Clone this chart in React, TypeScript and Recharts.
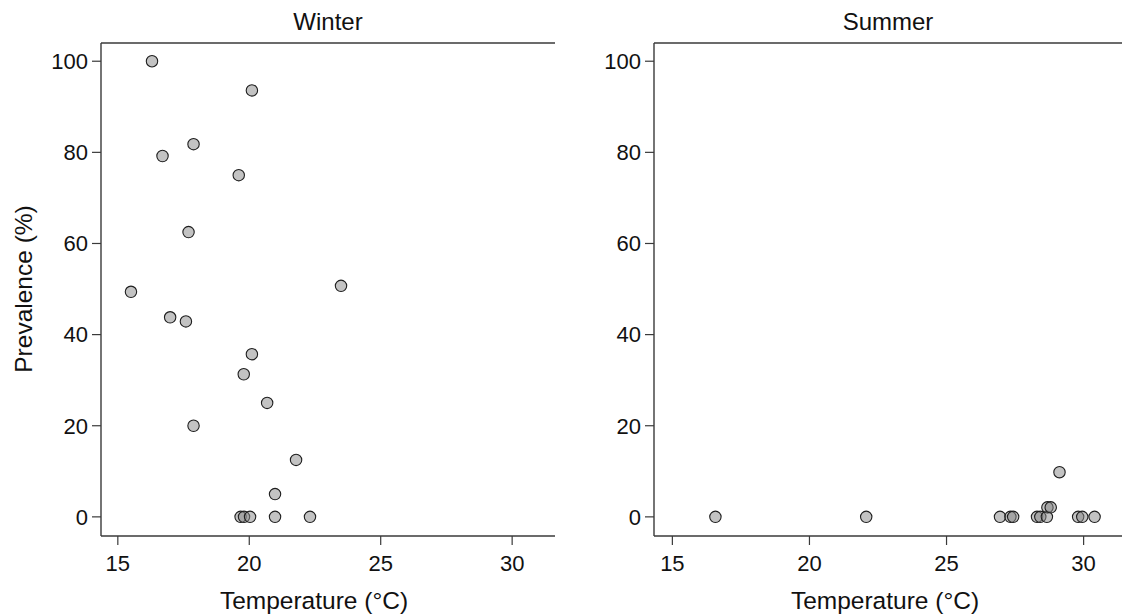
import React from 'react';
import { ScatterChart, Scatter, XAxis, YAxis } from 'recharts';

// ---- data ----
const winterTemp = [16.3, 20.1, 17.88, 16.7, 19.6, 17.69, 15.5, 23.49, 16.99, 17.59, 20.1, 19.79, 20.68, 17.88, 21.78, 20.98, 19.67, 19.8, 20.03, 20.98, 22.31];
const winterPrev = [100, 93.6, 81.8, 79.2, 75.0, 62.5, 49.4, 50.7, 43.8, 42.9, 35.7, 31.3, 25.0, 20.0, 12.5, 5.0, 0, 0, 0, 0, 0];

const summerTemp = [16.57, 22.07, 26.95, 27.33, 27.43, 28.3, 28.42, 28.66, 29.8, 29.95, 30.4, 28.68, 28.8, 29.12];
const summerPrev = [0, 0, 0, 0, 0, 0, 0, 0, 0, 0, 0, 2.1, 2.1, 9.8];

const xTicks = [15, 20, 25, 30];
const yTicks = [0, 20, 40, 60, 80, 100];
const panelTitles = ['Winter', 'Summer'];
const xLabel = 'Temperature (°C)';
const yLabel = 'Prevalence (%)';

const FONT = '"Liberation Sans", Arial, Helvetica, sans-serif';
const AXIS = '#3a3a3a';
const Y_DOMAIN: [number, number] = [-4.2, 104];

const toPoints = (xs: number[], ys: number[]) => xs.map((x, i) => ({ x, y: ys[i] }));

const Dot = (props: any) => {
  const { cx, cy } = props;
  if (cx == null || cy == null) return null;
  return (
    <circle cx={cx} cy={cy} r={5.7} fill="#888888" fillOpacity={0.5} stroke="#1e1e1e" strokeWidth={1.1} />
  );
};

const tickStyle = { fill: '#111', fontSize: 22, fontFamily: FONT };

const YLabel = (props: any) => {
  const x = 31.5;
  const y = 289;
  return (
    <text x={x} y={y} transform={`rotate(-90 ${x} ${y})`} textAnchor="middle" fill="#111" fontSize={24.5} fontFamily={FONT}>
      {yLabel}
    </text>
  );
};

type PanelProps = {
  title: string;
  data: { x: number; y: number }[];
  xDomain: [number, number];
  width: number;
  left: number;
  yAxisWidth: number;
  marginRight: number;
  showRightBorder: boolean;
  showYLabel: boolean;
  labelDx: number;
};

const Panel = ({ title, data, xDomain, width, left, yAxisWidth, marginRight, showRightBorder, showYLabel, labelDx }: PanelProps) => (
  <div style={{ position: 'absolute', left, top: 0, width, height: 616 }}>
    <ScatterChart width={width} height={616} margin={{ top: 0, right: marginRight, bottom: 2, left: 0 }}>
      <XAxis
        xAxisId="b"
        dataKey="x"
        type="number"
        domain={xDomain}
        allowDataOverflow
        ticks={xTicks}
        height={78}
        tickSize={9}
        tickMargin={10}
        tick={tickStyle}
        tickLine={{ stroke: AXIS, strokeWidth: 1.2 }}
        axisLine={{ stroke: AXIS, strokeWidth: 1.4 }}
        label={{ value: xLabel, position: 'insideBottom', offset: 5, dx: labelDx, fill: '#111', fontSize: 24.5, fontFamily: FONT }}
      />
      <XAxis
        xAxisId="t"
        orientation="top"
        type="number"
        domain={xDomain}
        allowDataOverflow
        height={43}
        tick={false}
        tickLine={false}
        axisLine={{ stroke: AXIS, strokeWidth: 1.4 }}
        label={{ value: title, position: 'insideTop', offset: 13, fill: '#111', fontSize: 24, fontFamily: FONT }}
      />
      <YAxis
        yAxisId="l"
        dataKey="y"
        type="number"
        domain={Y_DOMAIN}
        allowDataOverflow
        ticks={yTicks}
        width={yAxisWidth}
        tickSize={9}
        tickMargin={4}
        tick={tickStyle}
        tickLine={{ stroke: AXIS, strokeWidth: 1.2 }}
        axisLine={{ stroke: AXIS, strokeWidth: 1.4 }}
        label={showYLabel ? { content: <YLabel /> } : undefined}
      />
      {showRightBorder && (
        <YAxis
          yAxisId="r"
          orientation="right"
          type="number"
          domain={Y_DOMAIN}
          allowDataOverflow
          width={0}
          tick={false}
          tickLine={false}
          axisLine={{ stroke: AXIS, strokeWidth: 1.4 }}
        />
      )}
      <Scatter xAxisId="b" yAxisId="l" data={data} shape={<Dot />} isAnimationActive={false} />
    </ScatterChart>
  </div>
);

export default function App() {
  return (
    <div style={{ position: 'absolute', left: 0, top: 0, width: 1122, height: 616, overflow: 'hidden', background: '#fff' }}>
      <Panel
        title={panelTitles[0]}
        data={toPoints(winterTemp, winterPrev)}
        xDomain={[14.36, 31.63]}
        width={560}
        left={0}
        yAxisWidth={101}
        marginRight={5}
        showRightBorder={true}
        showYLabel={true}
        labelDx={-14}
      />
      <Panel
        title={panelTitles[1]}
        data={toPoints(summerTemp, summerPrev)}
        xDomain={[14.33, 31.4]}
        width={562}
        left={560}
        yAxisWidth={94}
        marginRight={0}
        showRightBorder={false}
        showYLabel={false}
        labelDx={-3}
      />
    </div>
  );
}
